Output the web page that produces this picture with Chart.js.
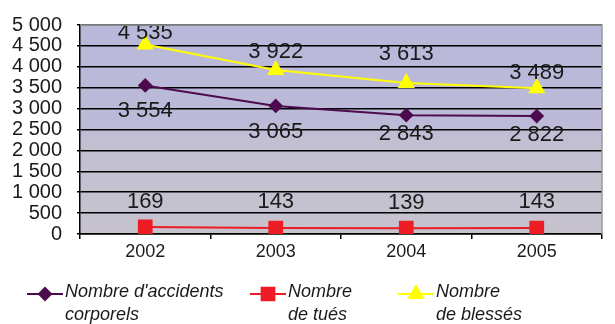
<!DOCTYPE html>
<html>
<head>
<meta charset="utf-8">
<script src="https://cdn.jsdelivr.net/npm/chart.js@4"></script>
<style>
  body { margin: 0; background: #fff; }
  #wrap { width: 615px; height: 324px; position: relative; }
</style>
</head>
<body>
<div id="wrap"><canvas id="chart"></canvas></div>
<script>
const years = ["2002", "2003", "2004", "2005"];
const accidents = [3554, 3065, 2843, 2822];
const tues = [169, 143, 139, 143];
const blesses = [4535, 3922, 3613, 3489];
const legendLines = [
  ["Nombre d'accidents", "corporels"],
  ["Nombre", "de tués"],
  ["Nombre", "de blessés"]
];

// number with space as thousands separator
function fmt(n) {
  return String(n).replace(/\B(?=(\d{3})+(?!\d))/g, " ");
}

// plot background + gray frame
const backgroundPlugin = {
  id: "plotBg",
  beforeDraw(chart) {
    const { ctx, chartArea: a } = chart;
    const g = ctx.createLinearGradient(0, a.top, 0, a.bottom);
    g.addColorStop(0, "#b9b8da");
    g.addColorStop(0.47, "#bcbad8");
    g.addColorStop(0.55, "#c2bfd2");
    g.addColorStop(1, "#c6c3ce");
    ctx.save();
    ctx.fillStyle = g;
    ctx.fillRect(a.left, a.top, a.right - a.left, a.bottom - a.top);
    ctx.restore();
  },
  afterDraw(chart) {
    const { ctx, chartArea: a } = chart;
    ctx.save();
    ctx.strokeStyle = "#9a9a9a";
    ctx.lineWidth = 1.5;
    ctx.beginPath();
    ctx.moveTo(a.left, a.top);
    ctx.lineTo(a.right, a.top);
    ctx.lineTo(a.right, a.bottom);
    ctx.stroke();
    ctx.restore();
  }
};

// value labels next to each point (offset in px per dataset/point)
const labelOffsets = [
  [25, 26, 19, 19],
  [-25, -26, -25, -26],
  [-11, -18, -29, -15]
];
const valueLabelPlugin = {
  id: "valueLabels",
  afterDatasetsDraw(chart) {
    const { ctx } = chart;
    ctx.save();
    ctx.font = "22px 'Liberation Sans', Arial, sans-serif";
    ctx.fillStyle = "#1a1a1a";
    ctx.textAlign = "center";
    ctx.textBaseline = "middle";
    chart.data.datasets.forEach((ds, i) => {
      chart.getDatasetMeta(i).data.forEach((pt, j) => {
        ctx.fillText(fmt(ds.data[j]), pt.x, pt.y + labelOffsets[i][j]);
      });
    });
    ctx.restore();
  }
};

// bottom legend with two-line italic labels
const legendX = [27, 250, 398];
const bottomLegendPlugin = {
  id: "bottomLegend",
  afterDraw(chart) {
    const { ctx } = chart;
    const y = 294;
    ctx.save();
    chart.data.datasets.forEach((ds, i) => {
      const x0 = legendX[i];
      ctx.strokeStyle = ds.borderColor;
      ctx.lineWidth = 2;
      ctx.beginPath();
      ctx.moveTo(x0, y);
      ctx.lineTo(x0 + 36, y);
      ctx.stroke();
      ctx.fillStyle = ds.pointBackgroundColor;
      ctx.strokeStyle = ds.pointBackgroundColor;
      Chart.helpers.drawPoint(ctx, {
        pointStyle: ds.pointStyle,
        radius: ds.pointRadius,
        borderWidth: 1
      }, x0 + 18, y);
      ctx.fillStyle = "#1a1a1a";
      ctx.font = "italic 18px 'Liberation Sans', Arial, sans-serif";
      ctx.textAlign = "left";
      ctx.textBaseline = "middle";
      ctx.fillText(legendLines[i][0], x0 + 38, 292);
      ctx.fillText(legendLines[i][1], x0 + 38, 315);
    });
    ctx.restore();
  }
};

new Chart(document.getElementById("chart"), {
  type: "line",
  data: {
    labels: years,
    datasets: [
      {
        label: "Nombre d'accidents corporels",
        data: accidents,
        borderColor: "#4d0b4d",
        backgroundColor: "#4d0b4d",
        pointBackgroundColor: "#4d0b4d",
        pointBorderColor: "#4d0b4d",
        pointStyle: "rectRot",
        pointRadius: 6,
        borderWidth: 2
      },
      {
        label: "Nombre de tués",
        data: tues,
        borderColor: "#ee1c25",
        backgroundColor: "#ee1c25",
        pointBackgroundColor: "#ee1c25",
        pointBorderColor: "#ee1c25",
        pointStyle: "rect",
        pointRadius: 9,
        borderWidth: 2
      },
      {
        label: "Nombre de blessés",
        data: blesses,
        borderColor: "#ffff00",
        backgroundColor: "#ffff00",
        pointBackgroundColor: "#ffff00",
        pointBorderColor: "#ffff00",
        pointStyle: "triangle",
        pointRadius: 8,
        borderWidth: 2
      }
    ]
  },
  options: {
    responsive: true,
    maintainAspectRatio: false,
    animation: false,
    layout: { padding: { top: 18, right: 13, left: 0, bottom: 0 } },
    plugins: {
      legend: { display: false },
      tooltip: { enabled: false }
    },
    scales: {
      x: {
        offset: true,
        afterFit(scale) { scale.height = 90; },
        grid: {
          offset: true,
          drawOnChartArea: false,
          drawTicks: true,
          tickLength: 5,
          color: "#000",
          lineWidth: 1.5
        },
        border: { color: "#000", width: 1.5 },
        ticks: {
          color: "#1a1a1a",
          padding: 2,
          font: { family: "'Liberation Sans', Arial, sans-serif", size: 18 }
        }
      },
      y: {
        min: 0,
        max: 5000,
        afterFit(scale) { scale.width = 80; },
        grid: {
          color: "#000",
          lineWidth: 1.5,
          tickLength: 3
        },
        border: { color: "#000", width: 1.5 },
        ticks: {
          stepSize: 500,
          autoSkip: false,
          color: "#1a1a1a",
          padding: 15,
          font: { family: "'Liberation Sans', Arial, sans-serif", size: 20, lineHeight: 1 },
          callback: (v) => fmt(v)
        }
      }
    }
  },
  plugins: [backgroundPlugin, valueLabelPlugin, bottomLegendPlugin]
});
</script>
</body>
</html>
